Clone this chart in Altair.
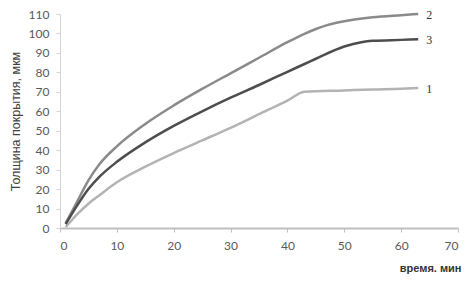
import altair as alt
import pandas as pd

time_1 = [1, 3, 5, 7, 10, 15, 20, 25, 30, 35, 40, 43, 50, 55, 60, 63]
series_1 = [0.5, 7, 12.5, 17, 23.5, 31.5, 38.5, 45, 51.5, 58.5, 65.5, 70, 70.7, 71.2, 71.6, 72]
time_2 = [1, 3, 5, 7, 10, 15, 20, 25, 30, 35, 40, 43, 45, 47, 50, 55, 60, 63]
series_2 = [2.4, 13.5, 24.5, 33, 42, 53.5, 63, 71.5, 79.5, 87.5, 95.5, 99.8, 102.3, 104.3, 106.3, 108.3, 109.4, 110]
time_3 = [1, 3, 5, 7, 10, 15, 20, 25, 30, 35, 40, 43, 45, 50, 53, 55, 60, 63]
series_3 = [2, 11.5, 20, 26.5, 34, 44, 52.5, 60, 67, 73.5, 80.3, 84.3, 87, 93.3, 95.5, 96.2, 96.7, 97]
series_names = ["1", "2", "3"]
series_colors = ["#b3b3b3", "#8a8a8a", "#4d4d4d"]
x_ticks = [0, 10, 20, 30, 40, 50, 60, 70]
y_ticks = [0, 10, 20, 30, 40, 50, 60, 70, 80, 90, 100, 110]

rows = []
for name, ts, vals in zip(series_names, [time_1, time_2, time_3], [series_1, series_2, series_3]):
    for t, v in zip(ts, vals):
        rows.append({"t": t, "v": v, "s": name})
df = pd.DataFrame(rows)
last = df.groupby("s").tail(1)

x = alt.X("t:Q", scale=alt.Scale(domain=[0, 70], nice=False),
          axis=alt.Axis(values=x_ticks, title="время. мин", grid=False, labelOverlap=False,
                        domainColor="#bfbfbf", domainWidth=2, tickColor="#bfbfbf",
                        tickSize=4, labelPadding=8, labelFont="Lato", labelFontSize=12,
                        labelColor="#595959", titleFont="Liberation Sans", titleFontSize=11,
                        titleFontWeight="bold", titleColor="#333333", titleAlign="right",
                        titleX=401, titleY=40, titleBaseline="middle"))
y = alt.Y("v:Q", scale=alt.Scale(domain=[0, 110], nice=False),
          axis=alt.Axis(values=y_ticks, title="Толщина покрытия, мкм", grid=False,
                        labelOverlap=False,
                        domainColor="#d4d4d4", domainWidth=1, tickColor="#d4d4d4",
                        tickSize=4, labelPadding=7, labelFont="Lato", labelFontSize=12,
                        labelColor="#595959", titleFont="Liberation Sans", titleFontSize=12.5,
                        titleFontWeight="normal", titleColor="#404040",
                        titleX=-45, titleY=107, titleAngle=270, titleAlign="center",
                        titleBaseline="middle"))
color = alt.Color("s:N", scale=alt.Scale(domain=series_names, range=series_colors), legend=None)

lines = alt.Chart(df).mark_line(strokeWidth=2.5, interpolate="monotone").encode(x=x, y=y, color=color, detail="s:N")
labels = alt.Chart(last).mark_text(align="left", dx=8, dy=1, font="Liberation Serif", fontSize=12,
                                   color="#333333").encode(x=x, y=y, text="s:N")

chart = (lines + labels).properties(
    width=398, height=214,
    autosize=alt.AutoSizeParams(type="none"),
    padding={"left": 52, "top": 6, "right": 6, "bottom": 52},
).configure_view(stroke=None)

chart.save("out.html", embed_options={"renderer": "svg", "actions": False})
